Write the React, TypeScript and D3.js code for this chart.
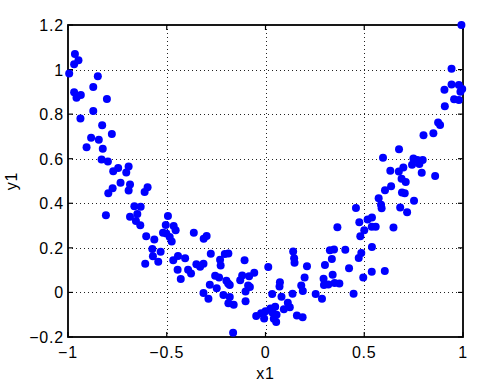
import React, { useEffect, useRef } from "react";
import * as d3 from "d3";

// values
const xs = [
  -0.994, -0.965, -0.969, -0.947, -0.969, -0.957, -0.935, -0.937, -0.872, -0.849,
  -0.803, -0.872, -0.827, -0.906, -0.883, -0.844, -0.824, -0.778, -0.83, -0.798,
  -0.771, -0.746, -0.693, -0.705, -0.734, -0.686, -0.693, -0.774, -0.796, -0.808,
  -0.612, -0.597, -0.664, -0.632, -0.686, -0.649, -0.656, -0.634, -0.604, -0.563,
  -0.609, -0.573, -0.57, -0.531, -0.543, -0.494, -0.505, -0.519, -0.502, -0.485,
  -0.475, -0.465, -0.455, -0.467, -0.443, -0.407, -0.445, -0.429, -0.392, -0.377,
  -0.363, -0.35, -0.331, -0.314, -0.313, -0.298, -0.277, -0.282, -0.314, -0.289,
  -0.255, -0.235, -0.247, -0.23, -0.227, -0.206, -0.188, -0.198, -0.189, -0.181,
  -0.213, -0.181, -0.188, -0.161, -0.164, -0.128, -0.118, -0.106, -0.101, -0.101,
  -0.088, -0.079, -0.057, -0.083, -0.047, -0.022, -0.007, 0.0, 0.014, 0.034,
  0.025, 0.036, 0.049, 0.042, 0.054, 0.056, 0.073, 0.071, 0.081, 0.093,
  0.113, 0.123, 0.137, 0.14, 0.145, 0.147, 0.159, 0.188, 0.181, 0.189,
  0.198, 0.21, 0.254, 0.286, 0.294, 0.296, 0.301, 0.318, 0.326, 0.347,
  0.336, 0.34, 0.35, 0.374, 0.364, 0.404, 0.423, 0.446, 0.458, 0.475,
  0.48, 0.485, 0.472, 0.495, 0.5, 0.517, 0.539, 0.538, 0.558, 0.539,
  0.538, 0.573, 0.585, 0.588, 0.604, 0.595, 0.605, 0.636, 0.632, 0.648,
  0.675, 0.676, 0.698, 0.682, 0.689, 0.71, 0.691, 0.705, 0.717, 0.752,
  0.742, 0.749, 0.769, 0.779, 0.796, 0.791, 0.8, 0.85, 0.859, 0.874,
  0.884, 0.908, 0.906, 0.942, 0.942, 0.955, 0.979, 0.979, 0.987, 0.996,
  0.992,
];
const ys = [
  0.982, 1.07, 1.024, 1.042, 0.898, 0.873, 0.886, 0.78, 0.922, 0.97,
  0.868, 0.814, 0.75, 0.652, 0.694, 0.685, 0.645, 0.711, 0.597, 0.588,
  0.544, 0.558, 0.565, 0.538, 0.492, 0.484, 0.457, 0.468, 0.445, 0.346,
  0.451, 0.472, 0.387, 0.385, 0.34, 0.352, 0.321, 0.301, 0.252, 0.238,
  0.129, 0.195, 0.162, 0.183, 0.138, 0.343, 0.303, 0.268, 0.264, 0.249,
  0.228, 0.298, 0.279, 0.144, 0.163, 0.153, 0.102, 0.06, 0.102, 0.085,
  0.268, 0.126, 0.115, 0.129, 0.241, 0.253, 0.174, 0.034, -0.003, -0.028,
  0.075, 0.067, 0.019, 0.147, 0.121, 0.172, 0.175, 0.052, 0.04, 0.033,
  -0.012, -0.021, -0.048, -0.055, -0.181, 0.055, 0.076, 0.144, 0.004, -0.04,
  0.031, 0.024, 0.088, 0.073, -0.106, -0.093, -0.117, -0.085, 0.114, -0.007,
  -0.072, -0.091, -0.064, -0.118, -0.133, -0.1, 0.046, 0.027, -0.019, -0.075,
  -0.046, -0.067, -0.006, 0.184, 0.153, 0.133, -0.103, -0.111, 0.031, 0.006,
  0.067, 0.118, -0.007, -0.028, 0.061, 0.033, 0.123, 0.036, 0.189, 0.193,
  0.15, 0.079, 0.042, 0.04, 0.292, 0.192, 0.109, -0.006, 0.379, 0.315,
  0.252, 0.177, 0.154, 0.067, 0.279, 0.327, 0.336, 0.295, 0.295, 0.204,
  0.093, 0.423, 0.393, 0.378, 0.096, 0.604, 0.459, 0.477, 0.546, 0.291,
  0.543, 0.642, 0.561, 0.381, 0.51, 0.496, 0.448, 0.445, 0.36, 0.411,
  0.573, 0.601, 0.594, 0.576, 0.594, 0.537, 0.705, 0.714, 0.522, 0.762,
  0.751, 0.835, 0.909, 1.004, 0.933, 0.867, 0.931, 0.864, 0.901, 0.913,
  1.2,
];
const xTicks = [-1, -0.5, 0, 0.5, 1];
const yTicks = [-0.2, 0, 0.2, 0.4, 0.6, 0.8, 1, 1.2];

const W = 484;
const H = 382;
const margin = { top: 25, right: 21, bottom: 45, left: 68 };

export default function App() {
  const ref = useRef<SVGSVGElement>(null);

  useEffect(() => {
    const svg = d3.select(ref.current);
    svg.selectAll("*").remove();

    const x = d3.scaleLinear().domain([-1, 1]).range([margin.left, W - margin.right]);
    const y = d3.scaleLinear().domain([-0.2, 1.2]).range([H - margin.bottom, margin.top]);
    const [x0, x1] = x.range();
    const [y0, y1] = y.range();
    const fmt = (v: number) => String(v).replace("-", "\u2212");

    svg.append("rect").attr("width", W).attr("height", H).attr("fill", "white");

    // dotted grid
    const grid = svg.append("g").attr("stroke", "#222").attr("stroke-width", 1)
      .attr("stroke-dasharray", "1,3");
    grid.selectAll("line.gx").data(xTicks.slice(1, -1)).enter().append("line")
      .attr("x1", (d) => Math.round(x(d)) + 0.5).attr("x2", (d) => Math.round(x(d)) + 0.5)
      .attr("y1", y1).attr("y2", y0);
    grid.selectAll("line.gy").data(yTicks.slice(1, -1)).enter().append("line")
      .attr("y1", (d) => Math.round(y(d)) + 0.5).attr("y2", (d) => Math.round(y(d)) + 0.5)
      .attr("x1", x0).attr("x2", x1);

    // inward ticks on all four sides
    const tk = svg.append("g").attr("stroke", "black").attr("stroke-width", 1.2);
    xTicks.forEach((d) => {
      tk.append("line").attr("x1", x(d)).attr("x2", x(d)).attr("y1", y0).attr("y2", y0 - 5);
      tk.append("line").attr("x1", x(d)).attr("x2", x(d)).attr("y1", y1).attr("y2", y1 + 5);
    });
    yTicks.forEach((d) => {
      tk.append("line").attr("y1", y(d)).attr("y2", y(d)).attr("x1", x0).attr("x2", x0 + 5);
      tk.append("line").attr("y1", y(d)).attr("y2", y(d)).attr("x1", x1).attr("x2", x1 - 5);
    });

    // box
    svg.append("rect")
      .attr("x", x0).attr("y", y1).attr("width", x1 - x0).attr("height", y0 - y1)
      .attr("fill", "none").attr("stroke", "black").attr("stroke-width", 1.8);

    // labels
    const font = "'Liberation Sans', Arial, sans-serif";
    const lab = svg.append("g").attr("font-family", font).attr("font-size", 16)
      .attr("letter-spacing", 0.8).attr("fill", "black");
    xTicks.forEach((d) => {
      lab.append("text").attr("x", x(d)).attr("y", y0 + 21).attr("text-anchor", "middle").text(fmt(d));
    });
    yTicks.forEach((d) => {
      lab.append("text").attr("x", x0 - 4).attr("y", y(d) + 6).attr("text-anchor", "end").text(fmt(d));
    });
    lab.append("text").attr("x", (x0 + x1) / 2).attr("y", y0 + 42)
      .attr("text-anchor", "middle").text("x1");
    lab.append("text")
      .attr("transform", `translate(${17},${(y0 + y1) / 2}) rotate(-90)`)
      .attr("text-anchor", "middle").text("y1");

    // points
    svg.append("g").attr("fill", "#0000ff")
      .selectAll("circle").data(xs.map((v, i) => [v, ys[i]])).enter().append("circle")
      .attr("cx", (d) => x(d[0])).attr("cy", (d) => y(d[1])).attr("r", 4);
  }, []);

  return (
    <svg ref={ref} width={W} height={H}
      style={{ position: "absolute", left: 0, top: 0, display: "block" }} />
  );
}
